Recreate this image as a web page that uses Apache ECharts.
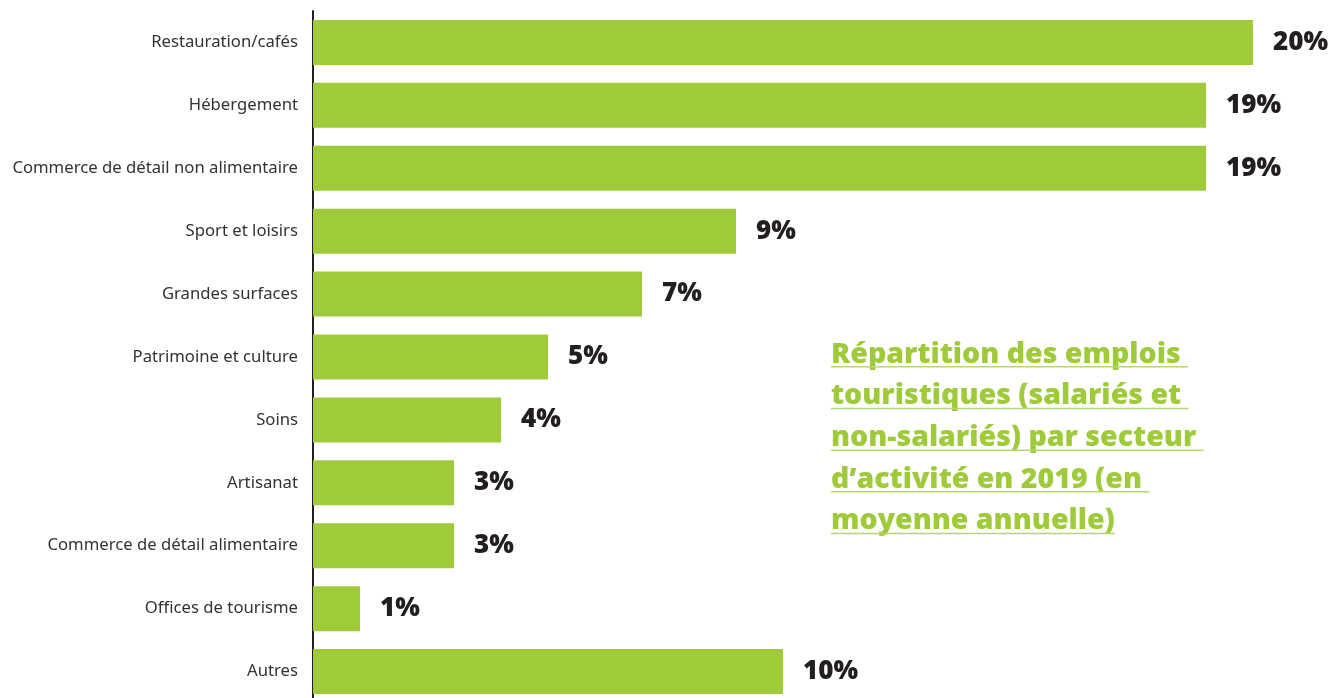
<!DOCTYPE html>
<html lang="fr">
<head>
    <meta charset="UTF-8" />
    <title>Répartition des emplois touristiques</title>
    <script src="https://cdn.jsdelivr.net/npm/echarts@6/dist/echarts.min.js"></script>
    <style>
        html, body { margin: 0; padding: 0; background: #fff; }
    </style>
</head>
<body>
<div id="main" style="width: 1333px;height:698px;"></div>
<script type="text/javascript">
    // secteurs, de haut en bas
    var categories = ['Restauration/cafés', 'Hébergement', 'Commerce de détail non alimentaire',
        'Sport et loisirs', 'Grandes surfaces', 'Patrimoine et culture', 'Soins', 'Artisanat',
        'Commerce de détail alimentaire', 'Offices de tourisme', 'Autres'];
    var values = [20, 19, 19, 9, 7, 5, 4, 3, 3, 1, 10];
    var titleLines = ['Répartition des emplois ', 'touristiques (salariés et ',
        'non-salariés) par secteur ', 'd\u2019activité en 2019 (en ', 'moyenne annuelle)'];

    var green = '#9fcb3a';
    var dark = '#231f20';
    var titleFont = '800 28.5px "Open Sans"';

    var myChart = echarts.init(document.getElementById('main'));

    // titre souligné à droite
    var titleGraphics = [];
    var measure = document.createElement('canvas').getContext('2d');
    measure.font = titleFont;
    for (var i = 0; i < titleLines.length; i++) {
        var y = 340 + i * 41.7;
        titleGraphics.push({
            type: 'text',
            left: 831,
            top: y,
            style: {
                text: titleLines[i],
                fill: green,
                font: titleFont
            }
        });
        titleGraphics.push({
            type: 'rect',
            left: 831,
            top: y + 26,
            shape: { width: measure.measureText(titleLines[i]).width, height: 1.5 },
            style: { fill: '#b5d86e' }
        });
    }

    var option = {
        animation: false,
        grid: {
            left: 313,
            right: 80,
            top: 11,
            height: 692,
            outerBoundsMode: 'none',
            containLabel: false
        },
        xAxis: {
            type: 'value',
            min: 0,
            max: 20,
            show: false
        },
        yAxis: {
            type: 'category',
            inverse: true,
            data: categories,
            axisLine: { show: true, lineStyle: { color: dark, width: 2 } },
            axisTick: { show: false },
            axisLabel: {
                margin: 15,
                color: '#333',
                fontFamily: 'Noto Sans',
                fontSize: 16.7
            }
        },
        series: [{
            type: 'bar',
            data: values,
            barWidth: 45,
            itemStyle: { color: green },
            label: {
                show: true,
                position: 'right',
                distance: 20,
                formatter: '{c}%',
                color: dark,
                fontFamily: 'Open Sans',
                fontWeight: 800,
                fontSize: 26
            }
        }],
        graphic: titleGraphics
    };
    myChart.setOption(option);
</script>
</body>
</html>
